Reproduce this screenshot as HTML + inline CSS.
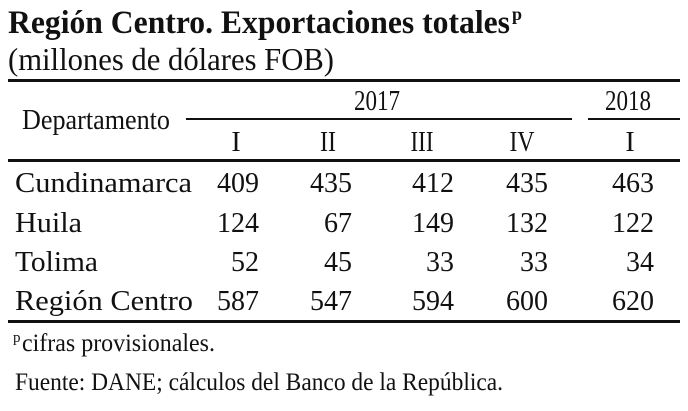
<!DOCTYPE html>
<html><head><meta charset="utf-8"><style>
html,body{margin:0;padding:0;background:#fff;}
svg{display:block;}
text{font-family:"Liberation Serif",serif;fill:#111;}
</style></head><body>
<svg width="688" height="411" viewBox="0 0 688 411" xmlns="http://www.w3.org/2000/svg">
<text x="8" y="33" font-size="33" font-weight="bold" textLength="502" lengthAdjust="spacingAndGlyphs">Región Centro. Exportaciones totales</text>
<text x="512" y="20" font-size="18" font-weight="bold">p</text>
<text x="8" y="70" font-size="32" textLength="326" lengthAdjust="spacingAndGlyphs">(millones de dólares FOB)</text>
<rect x="8" y="79" width="672" height="3" fill="#111"/>
<text x="22" y="129" font-size="28" textLength="148" lengthAdjust="spacingAndGlyphs">Departamento</text>
<text x="377" y="110" font-size="28" text-anchor="middle" textLength="46" lengthAdjust="spacingAndGlyphs">2017</text>
<text x="628" y="110" font-size="28" text-anchor="middle" textLength="46" lengthAdjust="spacingAndGlyphs">2018</text>
<rect x="186" y="118" width="386" height="2" fill="#111"/>
<rect x="588" y="118" width="92" height="2" fill="#111"/>
<g font-size="28" text-anchor="middle">
<text x="236" y="151">I</text><text x="328" y="151" textLength="16" lengthAdjust="spacingAndGlyphs">II</text><text x="422" y="151" textLength="23" lengthAdjust="spacingAndGlyphs">III</text><text x="522" y="151" textLength="25" lengthAdjust="spacingAndGlyphs">IV</text><text x="630" y="151">I</text>
</g>
<rect x="8" y="159" width="672" height="3" fill="#111"/>
<g font-size="29">
<text x="15" y="192" textLength="177" lengthAdjust="spacingAndGlyphs">Cundinamarca</text>
<text x="15" y="232" textLength="67" lengthAdjust="spacingAndGlyphs">Huila</text>
<text x="15" y="271" textLength="83" lengthAdjust="spacingAndGlyphs">Tolima</text>
<text x="15" y="310" textLength="178" lengthAdjust="spacingAndGlyphs">Región Centro</text>
</g>
<g font-size="29" text-anchor="end" lengthAdjust="spacingAndGlyphs">
<text x="259" y="192" textLength="42" lengthAdjust="spacingAndGlyphs">409</text><text x="352" y="192" textLength="42" lengthAdjust="spacingAndGlyphs">435</text><text x="454" y="192" textLength="42" lengthAdjust="spacingAndGlyphs">412</text><text x="548" y="192" textLength="42" lengthAdjust="spacingAndGlyphs">435</text><text x="654" y="192" textLength="42" lengthAdjust="spacingAndGlyphs">463</text>
<text x="259" y="232" textLength="42" lengthAdjust="spacingAndGlyphs">124</text><text x="352" y="232" textLength="28" lengthAdjust="spacingAndGlyphs">67</text><text x="454" y="232" textLength="42" lengthAdjust="spacingAndGlyphs">149</text><text x="548" y="232" textLength="42" lengthAdjust="spacingAndGlyphs">132</text><text x="654" y="232" textLength="42" lengthAdjust="spacingAndGlyphs">122</text>
<text x="259" y="271" textLength="28" lengthAdjust="spacingAndGlyphs">52</text><text x="352" y="271" textLength="28" lengthAdjust="spacingAndGlyphs">45</text><text x="454" y="271" textLength="28" lengthAdjust="spacingAndGlyphs">33</text><text x="548" y="271" textLength="28" lengthAdjust="spacingAndGlyphs">33</text><text x="654" y="271" textLength="28" lengthAdjust="spacingAndGlyphs">34</text>
<text x="259" y="310" textLength="42" lengthAdjust="spacingAndGlyphs">587</text><text x="352" y="310" textLength="42" lengthAdjust="spacingAndGlyphs">547</text><text x="454" y="310" textLength="42" lengthAdjust="spacingAndGlyphs">594</text><text x="548" y="310" textLength="42" lengthAdjust="spacingAndGlyphs">600</text><text x="654" y="310" textLength="42" lengthAdjust="spacingAndGlyphs">620</text>
</g>
<rect x="8" y="320" width="672" height="3" fill="#111"/>
<text x="13" y="342" font-size="15">p</text>
<text x="22" y="351" font-size="25" textLength="193" lengthAdjust="spacingAndGlyphs">cifras provisionales.</text>
<text x="15" y="390" font-size="25" textLength="488" lengthAdjust="spacingAndGlyphs">Fuente: DANE; cálculos del Banco de la República.</text>
</svg>
</body></html>
